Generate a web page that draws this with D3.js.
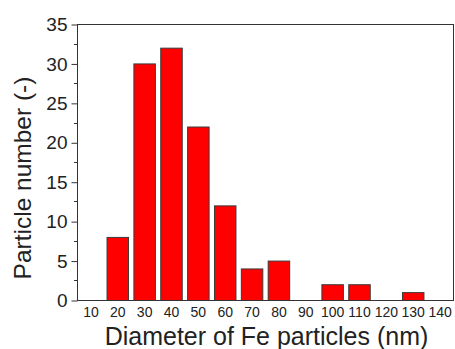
<!DOCTYPE html>
<html><head><meta charset="utf-8">
<script src="https://cdn.jsdelivr.net/npm/d3@7"></script>
<style>body{margin:0;background:#fff}svg{display:block}text{font-family:"Liberation Sans",Arial,sans-serif;fill:#222}</style>
</head><body><svg id="c" width="455" height="349"></svg>
<script>
const diameters = [20, 30, 40, 50, 60, 70, 80, 100, 110, 130];
const counts    = [8, 30, 32, 22, 12, 4, 5, 2, 2, 1];
const xTicks = [10,20,30,40,50,60,70,80,90,100,110,120,130,140];
const yTicks = [0,5,10,15,20,25,30,35];
const yMinor = [2.5,7.5,12.5,17.5,22.5,27.5,32.5];
const xTitle = "Diameter of Fe particles (nm)";
const yTitle = "Particle number (-)";

const L=77, R=453, T=24, B=300;
const svg = d3.select("#c");
const x = d3.scaleLinear().domain([5,145]).range([L,R]);
const y = d3.scaleLinear().domain([0,35]).range([B,T]);

const data = diameters.map((d,i)=>({d, c:counts[i]}));
svg.append("g").selectAll("rect").data(data).join("rect")
  .attr("x", d=>x(d.d-4)+0.5).attr("width", d=>x(d.d+4)-x(d.d-4))
  .attr("y", d=>y(d.c)+0.5).attr("height", d=>y(0)-y(d.c))
  .attr("fill","#ff0000").attr("stroke","#3a3a3a").attr("stroke-width",1);

// frame
svg.append("rect").attr("x",L+0.5).attr("y",T+0.5).attr("width",R-L).attr("height",B-T)
  .attr("fill","none").attr("stroke","#333").attr("stroke-width",1);

// y axis
const ya = svg.append("g").attr("transform",`translate(${L+0.5},0.5)`)
  .call(d3.axisLeft(y).tickValues(yTicks).tickSize(6).tickPadding(4).tickFormat(d3.format("d")));
ya.select(".domain").remove();
ya.selectAll("line").attr("stroke","#333");
ya.selectAll("text").attr("font-size",19).style("font-family",'"Liberation Sans",Arial,sans-serif').attr("fill","#222");
svg.append("g").selectAll("line").data(yMinor).join("line")
  .attr("x1",L-3).attr("x2",L).attr("y1",d=>Math.round(y(d))+0.5).attr("y2",d=>Math.round(y(d))+0.5)
  .attr("stroke","#333");

// x axis labels
const xa = svg.append("g").attr("transform",`translate(0,${B})`)
  .call(d3.axisBottom(x).tickValues(xTicks).tickSize(0).tickPadding(7.5).tickFormat(d3.format("d")));
xa.select(".domain").remove();
xa.selectAll("text").attr("font-size",14).style("font-family",'"Liberation Sans",Arial,sans-serif').attr("fill","#222");

svg.append("text").attr("x",266.5).attr("y",345).attr("text-anchor","middle")
  .attr("font-size",25).text(xTitle);
svg.append("text").attr("transform",`translate(31,178) rotate(-90)`).attr("text-anchor","middle")
  .attr("font-size",24.5).text(yTitle);
</script></body></html>
